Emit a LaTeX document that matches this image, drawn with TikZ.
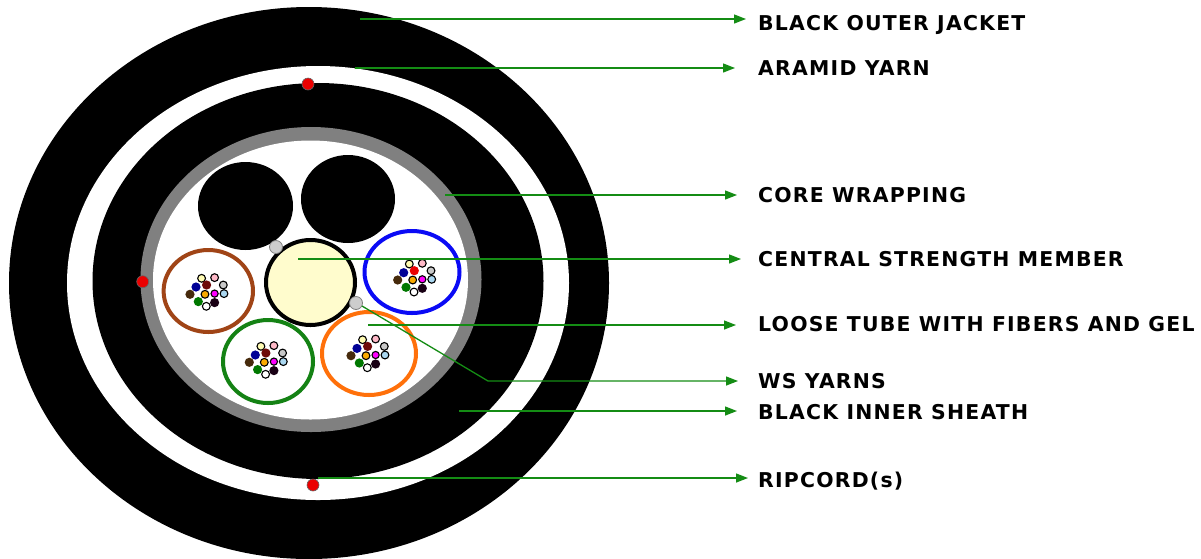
\documentclass[tikz,border=0pt]{standalone}
\usepackage{fontspec}
\newfontfamily\lblfont{DejaVu Sans}[LetterSpace=6]
\usetikzlibrary{arrows.meta}
\definecolor{leader}{RGB}{20,140,20}
\definecolor{wrapgray}{RGB}{128,128,128}
\definecolor{yarngray}{RGB}{205,205,205}
\definecolor{csmfill}{RGB}{255,252,205}
\definecolor{tubeblue}{RGB}{10,10,245}
\definecolor{tubebrown}{RGB}{160,68,22}
\definecolor{tubegreen}{RGB}{20,130,20}
\definecolor{tubeorange}{RGB}{255,112,10}
\definecolor{ripred}{RGB}{235,0,0}
% fibre colours
\definecolor{fyellow}{RGB}{255,252,180}
\definecolor{fpink}{RGB}{255,185,200}
\definecolor{fgray}{RGB}{200,200,200}
\definecolor{fnavy}{RGB}{0,0,150}
\definecolor{fbrown}{RGB}{70,42,12}
\definecolor{forange}{RGB}{250,170,0}
\definecolor{fmagenta}{RGB}{255,0,255}
\definecolor{flblue}{RGB}{170,215,240}
\definecolor{fgreen}{RGB}{0,120,0}
\definecolor{fblack}{RGB}{25,0,20}
\definecolor{fmaroon}{RGB}{110,10,10}
\begin{document}
\begin{tikzpicture}[x=1pt,y=-1pt,
  lbl/.style={anchor=base west, inner sep=0pt, font=\lblfont\bfseries\fontsize{20.4}{24}\selectfont},
  leaderline/.style={draw=leader, line width=1.3pt, -{Triangle[length=12pt,width=9pt]}},
  tube/.style={line width=4pt},
  lightfib/.style={draw=black, line width=1.1pt},
  darkfib/.style={draw=none},
  yarn/.style={fill=yarngray, draw=gray, line width=0.8pt},
  rip/.style={fill=ripred, draw=black!60, line width=0.6pt},
  pics/bundle/.style={code={
    \filldraw[lightfib, fill=fgray]    (18.3,-9.3) circle (3.9);
    \filldraw[lightfib, fill=fpink]    (9.6,-16.7) circle (3.9);
    \filldraw[lightfib, fill=fyellow]  (-3.4,-16)  circle (3.9);
    \filldraw[darkfib, fill=#1]        (1.6,-9.3)  circle (4.6);
    \filldraw[darkfib, fill=fnavy]     (-9,-7.3)   circle (4.6);
    \filldraw[darkfib, fill=fbrown]    (-15,0)     circle (4.6);
    \filldraw[lightfib, fill=flblue]   (19,-0.7)   circle (3.9);
    \filldraw[lightfib, fill=fmagenta] (9.6,-0.7)  circle (3.6);
    \filldraw[lightfib, fill=forange]  (0,0)       circle (3.9);
    \filldraw[darkfib, fill=fblack]    (9.6,8.3)   circle (4.6);
    \filldraw[darkfib, fill=fgreen]    (-6.7,7.3)  circle (4.6);
    \filldraw[lightfib, fill=white]    (1.3,12)    circle (3.9);
  }}
  ]
\fill[white] (0,0) rectangle (1201,558);
\useasboundingbox (0,0) rectangle (1201,558);

% cable cross-section
\begin{scope}
  \clip (0,0) rectangle (1201,558);
  \fill[black] (309,283) ellipse [x radius=300, y radius=276];
  \fill[white] (318,283) ellipse [x radius=251, y radius=217];
  \fill[black] (318,281) ellipse [x radius=225.5, y radius=198];
  \fill[wrapgray] (311,279.5) ellipse [x radius=170.5, y radius=152.5];
  \fill[white] (310.5,280) ellipse [x radius=157.5, y radius=139.5];
\end{scope}

% filler rods
\fill[black] (245.5,206) ellipse [x radius=47.5, y radius=44];
\fill[black] (348,199) ellipse [x radius=47, y radius=44];

% loose tubes
\draw[tube, draw=tubebrown]  (208.3,291) ellipse [x radius=44.7, y radius=41];
\draw[tube, draw=tubegreen]  (268,361.5) ellipse [x radius=45, y radius=41.5];
\draw[tube, draw=tubeorange] (369,353.5) ellipse [x radius=47, y radius=41.5];
\draw[tube, draw=tubeblue]   (412,272)   ellipse [x radius=47.5, y radius=41];

% fibres inside the tubes
\pic at (412.7,280) {bundle=ripred};
\pic at (205,294.3) {bundle=fmaroon};
\pic at (264.3,362.3) {bundle=fmaroon};
\pic at (366,355.7) {bundle=fmaroon};

% central strength member
\filldraw[fill=csmfill, draw=black, line width=4pt] (310.5,282.5) ellipse [x radius=44.5, y radius=42.5];

% water-swellable yarns
\filldraw[yarn] (276,247) circle (6.5);
\filldraw[yarn] (356,303) circle (6.5);

% ripcords
\filldraw[rip] (308,84) circle (6);
\filldraw[rip] (142.7,281.7) circle (6);
\filldraw[rip] (313,485) circle (6);

% labels
\node[lbl] (ojacket) at (758,30)  {BLACK OUTER JACKET};
\node[lbl] (aramid)  at (758,75)  {ARAMID YARN};
\node[lbl] (wrap)    at (758,202) {CORE WRAPPING};
\node[lbl] (csm)     at (758,266) {CENTRAL STRENGTH MEMBER};
\node[lbl] (ltube)   at (758,331) {LOOSE TUBE WITH FIBERS AND GEL};
\node[lbl] (wsy)     at (758,388) {WS YARNS};
\node[lbl] (isheath) at (758,419) {BLACK INNER SHEATH};
\node[lbl] (ripc)    at (758,487) {RIPCORD(s)};

% leader start points
\coordinate (s-ojacket) at (360,19);
\coordinate (s-aramid)  at (355,68);
\coordinate (s-wrap)    at (445,195);
\coordinate (s-csm)     at (298,259);
\coordinate (s-ltube)   at (368,325);
\coordinate (s-wsy)     at (362,306);
\coordinate (k-wsy)     at (488,381);
\coordinate (s-isheath) at (459,411);
\coordinate (s-ripc)    at (318,478);

% leader tips
\coordinate (t-ojacket) at (746,19);
\coordinate (t-aramid)  at (735,68);
\coordinate (t-wrap)    at (737,195);
\coordinate (t-csm)     at (741,259);
\coordinate (t-ltube)   at (736,325);
\coordinate (t-wsy)     at (738,381);
\coordinate (t-isheath) at (737,411);
\coordinate (t-ripc)    at (748,478);

\draw[leaderline] (s-ojacket) -- (t-ojacket);
\draw[leaderline] (s-aramid) -- (t-aramid);
\draw[leaderline] (s-wrap) -- (t-wrap);
\draw[leaderline] (s-csm) -- (t-csm);
\draw[leaderline] (s-ltube) -- (t-ltube);
\draw[leaderline] (s-wsy) -- (k-wsy) -- (t-wsy);
\draw[leaderline] (s-isheath) -- (t-isheath);
\draw[leaderline] (s-ripc) -- (t-ripc);
\end{tikzpicture}
\end{document}
